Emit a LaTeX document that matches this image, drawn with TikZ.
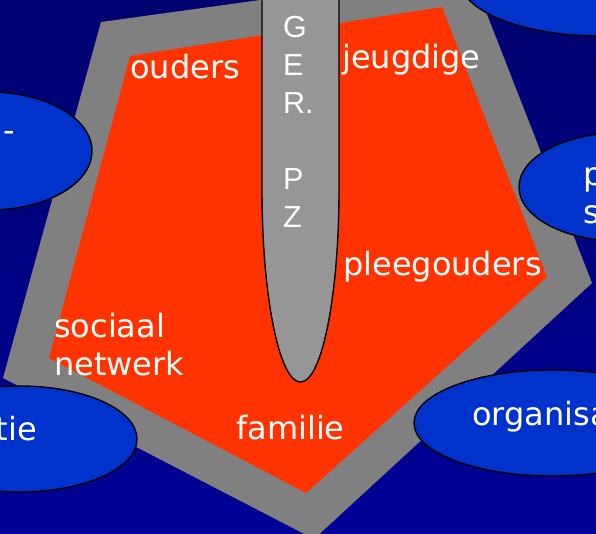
\documentclass[tikz,border=0pt]{standalone}
\usepackage{fontspec}
\setmainfont{DejaVu Sans}
\newfontfamily\gerfont{Liberation Sans}
\usetikzlibrary{positioning}
\definecolor{bgtop}{RGB}{0,0,112}
\definecolor{bgbot}{RGB}{0,0,150}
\definecolor{frame}{RGB}{128,128,128}
\definecolor{kern}{RGB}{255,51,0}
\definecolor{gergray}{RGB}{150,150,150}
\definecolor{orgblue}{RGB}{0,51,204}
\tikzstyle{orgshape}=[fill=orgblue, draw=black, line width=1.4pt]
\tikzstyle{lbl}=[text=white, inner sep=0pt, anchor=base west,
  font=\fontsize{32}{38}\selectfont]
\tikzstyle{gerlbl}=[text=white, inner sep=0pt, anchor=base west,
  font=\gerfont\fontsize{30.5}{38}\selectfont]

\begin{document}
\begin{tikzpicture}[x=1pt, y=-1pt]
    % background
    \shade[top color=bgtop, bottom color=bgbot] (0,0) rectangle (596,533);
    \useasboundingbox (0,0) rectangle (596,533);
    % outer frame and inner pentagon
    \fill[frame] (101,22) -- (470,-29) -- (592,283) -- (314,539) -- (3,378) -- cycle;
    \fill[kern] (130,56) -- (442,7) -- (547,277) -- (306,493) -- (49,358) -- cycle;
    % surrounding organisations
    \draw[orgshape] (-10,151) ellipse [x radius=102, y radius=59];
    \draw[orgshape] (600,-20) ellipse [x radius=140, y radius=56];
    \draw[orgshape] (620,187) ellipse [x radius=101, y radius=54];
    \draw[orgshape] (20,439) ellipse [x radius=117, y radius=53];
    \draw[orgshape] (552,423) ellipse [x radius=138, y radius=53];
    % GER. PZ bar
    \draw[fill=gergray, draw=black, line width=1.4pt]
      (262,-5) -- (262,190) .. controls (262,296) and (279.2,382) .. (300.5,382)
      .. controls (321.8,382) and (339,296) .. (339,190) -- (339,-5);
    \foreach \ch [count=\i] in {G,E,R.,{},P,Z}
      \node[gerlbl] (ger\i) at (283,{37+38*(\i-1)}) {\ch};
    % labels
    \node[lbl] (ouders) at (130,78) {ouders};
    \node[lbl] (jeugd) at (342,68) {jeugdige};
    \node[lbl] (pleeg) at (343,275) {pleegouders};
    \node[lbl] (sociaal) at (54,337) {sociaal};
    \node[lbl] (netwerk) at (54,375) {netwerk};
    \node[lbl] (familie) at (236,439) {familie};
    \node[lbl] (streep) at (3,141) {-};
    \node[lbl, anchor=base east] (tie) at (37,440) {tie};
    \node[lbl] (orga) at (472,425) {organisa};
    \node[lbl] (orgp) at (583,185) {p};
    \node[lbl] (orgs) at (583,223) {s};
  \end{tikzpicture}
\end{document}
